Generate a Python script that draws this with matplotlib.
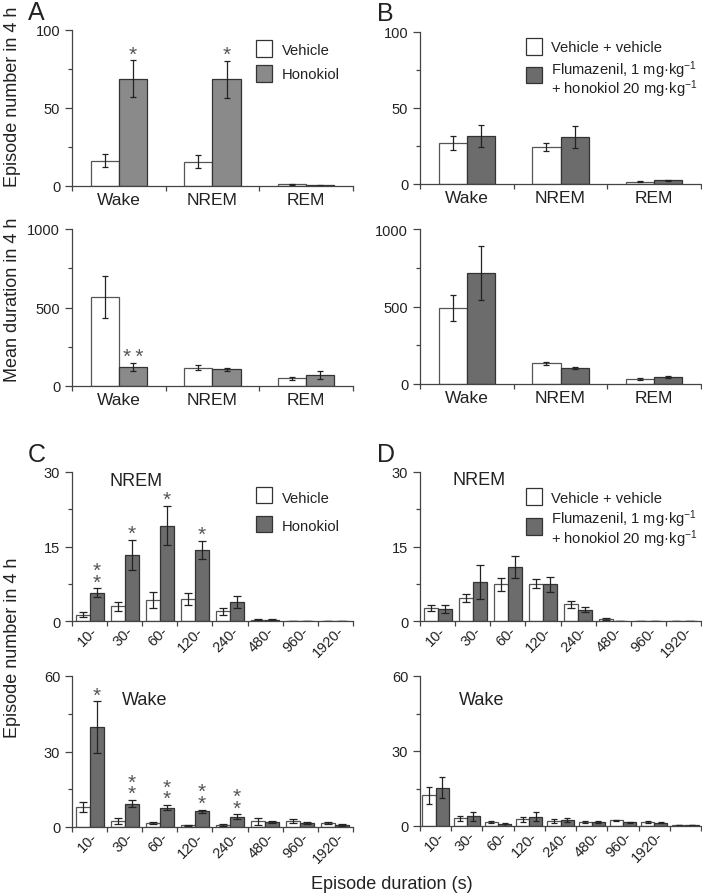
import matplotlib
matplotlib.use('Agg')
import matplotlib.pyplot as plt
import numpy as np
from matplotlib.patches import Rectangle
from matplotlib.transforms import ScaledTranslation

plt.rcParams['font.family'] = ['Liberation Sans', 'DejaVu Sans']
plt.rcParams['mathtext.fontset'] = 'custom'
plt.rcParams['mathtext.rm'] = 'Liberation Sans'
plt.rcParams['mathtext.it'] = 'Liberation Sans:italic'
plt.rcParams['mathtext.bf'] = 'Liberation Sans:bold'

# ---------------- data ----------------
states = ['Wake', 'NREM', 'REM']
bins = ['10-', '30-', '60-', '120-', '240-', '480-', '960-', '1920-']
bins_d_wake = bins + ['']

A_num_veh = [16.2, 15.6, 1.2]
A_num_veh_err = [4.0, 4.2, 0.4]
A_num_hon = [68.8, 68.4, 0.6]
A_num_hon_err = [11.7, 11.7, 0.3]
A_dur_veh = [569, 117, 49]
A_dur_veh_err = [134, 18, 10]
A_dur_hon = [120, 106, 70]
A_dur_hon_err = [24, 10, 24]

B_num_veh = [27.0, 24.5, 1.5]
B_num_veh_err = [4.4, 2.8, 0.3]
B_num_flu = [31.5, 30.8, 2.4]
B_num_flu_err = [7.4, 7.3, 0.4]
B_dur_veh = [490, 133, 34]
B_dur_veh_err = [83, 10, 5]
B_dur_flu = [717, 103, 45]
B_dur_flu_err = [173, 5, 5]

C_nrem_veh = [1.3, 3.0, 4.3, 4.5, 1.95, 0.3, 0, 0]
C_nrem_veh_err = [0.5, 0.9, 1.6, 1.2, 0.7, 0.1, 0, 0]
C_nrem_hon = [5.7, 13.3, 19.2, 14.3, 3.8, 0.3, 0, 0]
C_nrem_hon_err = [0.85, 3.0, 3.9, 1.9, 1.2, 0.1, 0, 0]
C_wake_veh = [8.0, 2.2, 1.5, 0.6, 0.8, 2.2, 2.4, 1.6]
C_wake_veh_err = [2.0, 1.2, 0.3, 0.2, 0.3, 1.3, 0.7, 0.3]
C_wake_hon = [39.7, 9.3, 7.7, 6.2, 4.0, 2.0, 1.5, 0.8]
C_wake_hon_err = [10.2, 1.3, 1.0, 0.7, 1.0, 0.5, 0.3, 0.3]

D_nrem_veh = [2.7, 4.7, 7.4, 7.5, 3.35, 0.4, 0, 0]
D_nrem_veh_err = [0.6, 0.8, 1.35, 0.95, 0.65, 0.2, 0, 0]
D_nrem_flu = [2.5, 7.9, 10.9, 7.35, 2.3, 0, 0, 0]
D_nrem_flu_err = [0.8, 3.4, 2.25, 1.6, 0.5, 0, 0, 0]
D_wake_veh = [12.3, 3.1, 1.6, 2.7, 2.2, 1.8, 2.3, 1.5, 0.4]
D_wake_veh_err = [3.5, 0.9, 0.4, 0.9, 0.8, 0.4, 0.3, 0.4, 0.1]
D_wake_flu = [15.4, 4.0, 0.8, 3.8, 2.3, 1.6, 1.6, 1.4, 0.4]
D_wake_flu_err = [4.2, 1.8, 0.6, 1.9, 0.8, 0.3, 0.2, 0.3, 0.1]

# significance: group index -> number of asterisks
A_num_sig = {0: 1, 1: 1}
A_dur_sig = {0: 2}
C_nrem_sig = {0: 2, 1: 1, 2: 1, 3: 1}
C_wake_sig = {0: 1, 1: 2, 2: 2, 3: 2, 4: 2}

legend_A = ['Vehicle', 'Honokiol']
legend_B = ['Vehicle + vehicle', 'Flumazenil, 1 mg·kg$^{-1}$', '+ honokiol 20 mg·kg$^{-1}$']

# ---------------- style ----------------
W, H = 702, 895
fig = plt.figure(figsize=(W / 100, H / 100), dpi=100)

AX_COL = '#444444'
VEH_EDGE = '#555555'
HON_EDGE = '#333333'
HON_A = '#8a8a8a'
HON_DARK = '#6c6c6c'
STAR_COL = '#555555'
PX = 0.72  # points per pixel


def add_ax(l, t, r, b):
    return fig.add_axes([l / W, 1 - b / H, (r - l) / W, (b - t) / H])


def style_ax(ax, labels, ymax, yticks, yminor, cat_size, rotated):
    n = len(labels)
    ax.set_xlim(0, n)
    ax.set_ylim(0, ymax)
    for s in ['top', 'right']:
        ax.spines[s].set_visible(False)
    for s in ['left', 'bottom']:
        ax.spines[s].set_color(AX_COL)
        ax.spines[s].set_linewidth(0.9)
    ax.set_xticks(np.arange(n + 1))
    ax.set_xticklabels([])
    ax.set_xticks(np.arange(n) + 0.5, minor=True)
    ax.set_yticks(yticks)
    ax.set_yticks(yminor, minor=True)
    ax.tick_params(axis='y', which='major', length=5, width=0.9, color=AX_COL,
                   labelsize=10.5, pad=3.5, labelcolor='#222222')
    ax.tick_params(axis='y', which='minor', length=3, width=0.9, color=AX_COL)
    ax.tick_params(axis='x', which='major', length=3.5, width=0.9, color=AX_COL)
    if rotated:
        ax.tick_params(axis='x', which='minor', length=0, pad=5, labelsize=10.5,
                       labelcolor='#222222')
        ax.set_xticklabels(labels, minor=True, rotation=45, ha='right', va='center',
                           rotation_mode='anchor')
        off = ScaledTranslation(6 / 100, 0, fig.dpi_scale_trans)
        for lab in ax.get_xticklabels(minor=True):
            lab.set_transform(lab.get_transform() + off)
    else:
        ax.tick_params(axis='x', which='minor', length=0, pad=4, labelsize=cat_size,
                       labelcolor='#222222')
        ax.set_xticklabels(labels, minor=True)


def draw(ax, labels, v1, e1, v2, e2, width, c2, cap):
    x = np.arange(len(labels)) + 0.5
    ek = dict(ecolor='#222222', elinewidth=0.9, capsize=cap, capthick=0.9)
    ax.bar(x - width / 2, v1, width, yerr=e1, color='white', edgecolor=VEH_EDGE,
           linewidth=0.9, error_kw=ek, zorder=2)
    ax.bar(x + width / 2, v2, width, yerr=e2, color=c2, edgecolor=HON_EDGE,
           linewidth=0.9, error_kw=ek, zorder=2)


def stars(ax, sig, v2, e2, width, horizontal=False, fs=15, gap=13, pitch=10.5):
    fs_px = fs / PX
    for g, n in sig.items():
        xc = g + 0.5 + width / 2
        yt = v2[g] + e2[g]
        dy = gap * PX - 0.575 * fs   # baseline of the lowest asterisk
        if horizontal:
            s = '\u2009'.join(['*'] * n)
            ax.annotate(s, (xc, yt), xytext=(0, dy), textcoords='offset points',
                        ha='center', va='baseline', fontsize=fs, color=STAR_COL)
        else:
            s = '\n'.join(['*'] * n)
            ax.annotate(s, (xc, yt), xytext=(0, dy), textcoords='offset points',
                        ha='center', va='baseline', fontsize=fs, color=STAR_COL,
                        linespacing=pitch / fs_px, multialignment='center')


def ftext(x, y, s, **kw):
    fig.text(x / W, 1 - y / H, s, **kw)


def legend_box(x, top, face, size=16.5):
    fig.add_artist(Rectangle((x / W, 1 - (top + size) / H), size / W, size / H,
                             transform=fig.transFigure, facecolor=face,
                             edgecolor='#333333', linewidth=0.9))


# ---------------- panel A ----------------
axA1 = add_ax(72, 31, 353, 187)
draw(axA1, states, A_num_veh, A_num_veh_err, A_num_hon, A_num_hon_err, 0.3, HON_A, 2.5)
style_ax(axA1, states, 100, [0, 50, 100], [25, 75], 12.5, False)
stars(axA1, A_num_sig, A_num_hon, A_num_hon_err, 0.3)

axA2 = add_ax(72, 230, 353, 387)
draw(axA2, states, A_dur_veh, A_dur_veh_err, A_dur_hon, A_dur_hon_err, 0.3, HON_A, 2.5)
style_ax(axA2, states, 1000, [0, 500, 1000], [250, 750], 12.5, False)
stars(axA2, A_dur_sig, A_dur_hon, A_dur_hon_err, 0.3, horizontal=True)

# ---------------- panel B ----------------
axB1 = add_ax(420, 33, 701, 185)
draw(axB1, states, B_num_veh, B_num_veh_err, B_num_flu, B_num_flu_err, 0.3, HON_DARK, 2.5)
style_ax(axB1, states, 100, [0, 50, 100], [25, 75], 12.5, False)

axB2 = add_ax(420, 230, 701, 385)
draw(axB2, states, B_dur_veh, B_dur_veh_err, B_dur_flu, B_dur_flu_err, 0.3, HON_DARK, 2.5)
style_ax(axB2, states, 1000, [0, 500, 1000], [250, 750], 12.5, False)

# ---------------- panel C ----------------
axC1 = add_ax(72, 473, 353, 622)
draw(axC1, bins, C_nrem_veh, C_nrem_veh_err, C_nrem_hon, C_nrem_hon_err, 0.4, HON_DARK, 2.7)
style_ax(axC1, bins, 30, [0, 15, 30], [7.5, 22.5], 10.5, True)
stars(axC1, C_nrem_sig, C_nrem_hon, C_nrem_hon_err, 0.4)

axC2 = add_ax(72, 677, 353, 828)
draw(axC2, bins, C_wake_veh, C_wake_veh_err, C_wake_hon, C_wake_hon_err, 0.4, HON_DARK, 2.7)
style_ax(axC2, bins, 60, [0, 30, 60], [15, 45], 10.5, True)
stars(axC2, C_wake_sig, C_wake_hon, C_wake_hon_err, 0.4)

# ---------------- panel D ----------------
axD1 = add_ax(420, 473, 701, 622)
draw(axD1, bins, D_nrem_veh, D_nrem_veh_err, D_nrem_flu, D_nrem_flu_err, 0.4, HON_DARK, 2.7)
style_ax(axD1, bins, 30, [0, 15, 30], [7.5, 22.5], 10.5, True)

axD2 = add_ax(420, 677, 701, 827)
draw(axD2, bins_d_wake, D_wake_veh, D_wake_veh_err, D_wake_flu, D_wake_flu_err, 0.42, HON_DARK, 2.4)
style_ax(axD2, bins_d_wake, 60, [0, 30, 60], [15, 45], 10.5, True)

# ---------------- texts ----------------
for letter, x, yb in [('A', 28, 20), ('B', 377, 21), ('C', 28, 462), ('D', 377, 462)]:
    ftext(x, yb, letter, fontsize=18, va='baseline', ha='left', color='#222222')

ftext(13, 97, 'Episode number in 4 h', rotation=90, ha='center', va='center', fontsize=13, color='#222222')
ftext(13, 300, 'Mean duration in 4 h', rotation=90, ha='center', va='center', fontsize=13, color='#222222')
ftext(13, 648, 'Episode number in 4 h', rotation=90, ha='center', va='center', fontsize=13, color='#222222')
ftext(392, 885, 'Episode duration (s)', ha='center', va='center', fontsize=13, color='#222222')

ftext(110, 486, 'NREM', fontsize=13, va='baseline', color='#222222')
ftext(122, 705, 'Wake', fontsize=13, va='baseline', color='#222222')
ftext(452, 485, 'NREM', fontsize=13, va='baseline', color='#222222')
ftext(459, 705, 'Wake', fontsize=13, va='baseline', color='#222222')

# legends
LFS = 10.6
legend_box(255.7, 41.3, 'white')
legend_box(255.7, 66.3, HON_A)
ftext(281.7, 55, legend_A[0], fontsize=LFS, va='baseline', color='#222222')
ftext(281.7, 79, legend_A[1], fontsize=LFS, va='baseline', color='#222222')

legend_box(255.7, 487.7, 'white')
legend_box(255.7, 516.7, HON_DARK)
ftext(281.7, 502.7, legend_A[0], fontsize=LFS, va='baseline', color='#222222')
ftext(281.7, 531, legend_A[1], fontsize=LFS, va='baseline', color='#222222')

two_line = legend_B[1] + '\n' + legend_B[2]

legend_box(525.7, 39, 'white')
legend_box(525.7, 67.7, HON_DARK)
ftext(550.7, 51.7, legend_B[0], fontsize=LFS, va='baseline', color='#222222')
ftext(550.7, 94, two_line, fontsize=LFS, va='baseline', color='#222222',
      linespacing=0.85)

legend_box(525.7, 489, 'white')
legend_box(525.7, 519, HON_DARK)
ftext(550.7, 502.7, legend_B[0], fontsize=LFS, va='baseline', color='#222222')
ftext(550.7, 544, two_line, fontsize=LFS, va='baseline', color='#222222',
      linespacing=0.9)

fig.savefig('out.png', dpi=100, facecolor='white')
